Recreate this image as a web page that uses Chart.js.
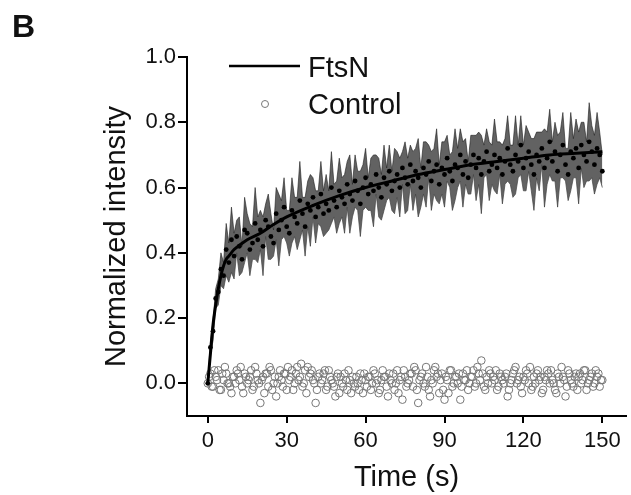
<!DOCTYPE html>
<html>
	<head>
		<title>FtsN FRAP</title>
		<meta charset="utf-8"/>
		<script src="https://cdn.jsdelivr.net/npm/chart.js@4.4.1/dist/chart.umd.min.js"></script>
		<style>
			body { margin: 0; background: #fff; }
			#frap_chart { display: block; }
		</style>
	</head>
	<body>
		<canvas id="frap_chart" width="631" height="495"></canvas>
		<script>
			const fontName = "'Liberation Sans', Arial, sans-serif";

			// one frame per second, t = 0 .. 150 s
			const frameCount = 151;

			const ftsnMean = [
				0.00, 0.11, 0.16, 0.26, 0.28, 0.35, 0.33, 0.41, 0.37, 0.44, 0.39,
				0.45, 0.42, 0.38, 0.47, 0.46, 0.41, 0.43, 0.49, 0.44, 0.47,
				0.42, 0.50, 0.48, 0.45, 0.43, 0.52, 0.47, 0.50, 0.54, 0.48,
				0.46, 0.53, 0.51, 0.49, 0.56, 0.52, 0.48, 0.55, 0.53, 0.57,
				0.51, 0.54, 0.58, 0.52, 0.55, 0.53, 0.60, 0.56, 0.54, 0.59,
				0.57, 0.55, 0.61, 0.58, 0.56, 0.62, 0.59, 0.55, 0.60, 0.63,
				0.58, 0.61, 0.59, 0.64, 0.60, 0.57, 0.63, 0.61, 0.65, 0.59,
				0.62, 0.64, 0.60, 0.66, 0.63, 0.61, 0.67, 0.62, 0.65, 0.63,
				0.60, 0.66, 0.64, 0.68, 0.62, 0.65, 0.67, 0.61, 0.66, 0.64,
				0.69, 0.65, 0.62, 0.67, 0.66, 0.70, 0.64, 0.68, 0.63, 0.67,
				0.70, 0.66, 0.69, 0.64, 0.68, 0.71, 0.65, 0.67, 0.70, 0.66,
				0.69, 0.64, 0.68, 0.72, 0.67, 0.65, 0.70, 0.68, 0.73, 0.66,
				0.69, 0.71, 0.67, 0.64, 0.70, 0.68, 0.72, 0.66, 0.69, 0.74,
				0.68, 0.71, 0.65, 0.70, 0.73, 0.67, 0.64, 0.71, 0.69, 0.72,
				0.66, 0.73, 0.70, 0.68, 0.74, 0.71, 0.67, 0.72, 0.70, 0.65
			];

			const ftsnError = [
				0.00, 0.02, 0.03, 0.03, 0.04, 0.05, 0.04, 0.08, 0.06, 0.10, 0.07,
				0.05, 0.09, 0.04, 0.10, 0.06, 0.08, 0.05, 0.11, 0.07, 0.06,
				0.09, 0.05, 0.10, 0.07, 0.04, 0.08, 0.11, 0.06, 0.09, 0.05,
				0.07, 0.10, 0.06, 0.08, 0.12, 0.05, 0.09, 0.07, 0.11, 0.06,
				0.08, 0.05, 0.10, 0.07, 0.09, 0.06, 0.11, 0.05, 0.08, 0.10,
				0.06, 0.09, 0.07, 0.12, 0.05, 0.08, 0.06, 0.10, 0.07, 0.09,
				0.05, 0.08, 0.11, 0.06, 0.09, 0.07, 0.10, 0.05, 0.08, 0.06,
				0.10, 0.07, 0.09, 0.05, 0.11, 0.08, 0.06, 0.09, 0.07, 0.12,
				0.06, 0.08, 0.10, 0.05, 0.09, 0.07, 0.11, 0.06, 0.08, 0.10,
				0.07, 0.05, 0.09, 0.11, 0.06, 0.08, 0.10, 0.07, 0.05, 0.09,
				0.06, 0.10, 0.08, 0.12, 0.05, 0.07, 0.09, 0.06, 0.11, 0.08,
				0.05, 0.09, 0.07, 0.10, 0.06, 0.08, 0.12, 0.05, 0.09, 0.07,
				0.10, 0.06, 0.08, 0.11, 0.07, 0.09, 0.05, 0.12, 0.08, 0.10,
				0.06, 0.09, 0.11, 0.07, 0.10, 0.05, 0.08, 0.12, 0.06, 0.09,
				0.11, 0.07, 0.10, 0.06, 0.12, 0.08, 0.09, 0.11, 0.07, 0.05
			];

			// control frames on whole seconds
			const controlValues = [
				0.00, 0.03, -0.01, 0.02, 0.04, -0.02, 0.01, 0.03, 0.00, -0.03, 0.02,
				0.04, 0.01, -0.01, 0.03, 0.00, 0.02, -0.02, 0.05, 0.01, -0.06,
				0.02, 0.03, -0.01, 0.04, 0.00, -0.04, 0.02, 0.01, 0.03, -0.02,
				0.01, 0.04, 0.00, 0.05, 0.02, -0.01, 0.04, 0.05, 0.03, 0.01,
				-0.06, 0.02, 0.00, 0.03, -0.02, 0.04, 0.01, -0.01, 0.02, -0.03,
				0.00, 0.03, -0.02, 0.01, 0.02, -0.01, 0.00, 0.03, -0.03, 0.01,
				0.02, -0.02, 0.04, 0.00, -0.03, 0.01, 0.02, -0.01, 0.03, 0.00,
				-0.02, 0.04, 0.01, -0.05, 0.02, 0.00, 0.03, -0.01, 0.04, -0.06,
				0.02, 0.00, 0.05, -0.02, 0.01, 0.04, 0.02, -0.03, 0.03, -0.05,
				0.01, 0.04, -0.01, 0.02, 0.00, -0.05, 0.03, 0.01, -0.02, 0.02,
				0.04, 0.00, 0.03, 0.07, -0.01, 0.02, 0.04, 0.00, 0.01, -0.02,
				0.03, 0.01, 0.02, -0.04, 0.00, 0.03, 0.05, 0.01, -0.01, 0.02,
				0.04, 0.00, -0.02, 0.02, 0.03, 0.01, -0.03, 0.02, 0.04, 0.00,
				0.01, -0.02, 0.03, 0.00, 0.02, -0.04, 0.04, 0.01, -0.01, 0.03,
				0.02, 0.00, 0.04, -0.02, 0.01, 0.03, 0.00, 0.02, -0.01, 0.01
			];

			// control frames on half seconds, t = 0.5 .. 149.5 s
			const controlValuesHalf = [
				0.02, -0.01, 0.04, 0.01, -0.02, 0.03, 0.05, 0.00, -0.01, 0.02,
				0.00, 0.03, 0.05, -0.03, 0.02, 0.01, 0.04, -0.01, 0.03, 0.00,
				0.01, -0.03, 0.03, 0.05, -0.02, 0.02, 0.00, 0.04, -0.01, 0.03,
				0.05, 0.02, -0.02, 0.03, 0.01, 0.06, 0.00, -0.03, 0.02, 0.04,
				0.00, -0.02, 0.03, 0.01, 0.04, -0.01, 0.02, 0.00, -0.04, 0.03,
				0.02, -0.01, 0.01, 0.04, -0.03, 0.00, 0.02, -0.02, 0.01, 0.03,
				-0.01, 0.02, 0.00, 0.03, 0.01, -0.02, 0.04, 0.02, -0.04, 0.01,
				0.03, 0.00, -0.03, 0.02, 0.04, -0.01, 0.01, 0.03, 0.05, -0.02,
				0.01, 0.03, -0.01, 0.02, -0.04, 0.00, 0.05, 0.03, 0.01, -0.02,
				0.02, -0.03, 0.04, 0.00, 0.02, 0.03, -0.01, 0.01, 0.04, 0.00,
				0.02, -0.01, 0.05, 0.01, 0.03, -0.02, 0.00, 0.03, 0.02, 0.04,
				-0.01, 0.02, 0.00, 0.03, -0.02, 0.01, 0.04, 0.00, 0.02, -0.03,
				0.01, 0.03, 0.05, -0.01, 0.00, 0.04, 0.02, -0.02, 0.01, 0.03,
				0.04, 0.00, -0.03, 0.02, 0.05, 0.01, -0.01, 0.03, 0.00, 0.02,
				-0.02, 0.03, 0.01, 0.04, 0.00, 0.02, -0.01, 0.04, 0.03, 0.01
			];

			// fitted recovery curve
			const fitTimes  = [0, 1, 2, 3, 4, 5, 6, 7, 8, 10, 12, 15, 20, 25, 30, 40, 50, 60, 70, 80, 90, 100, 110, 120, 130, 140, 150];
			const fitValues = [0, 0.09, 0.18, 0.24, 0.29, 0.33, 0.36, 0.38, 0.39, 0.41, 0.423, 0.44, 0.46, 0.487, 0.51, 0.545, 0.575, 0.60, 0.62, 0.64, 0.655, 0.67, 0.68, 0.69, 0.70, 0.705, 0.71];

			const xTicks = [0, 30, 60, 90, 120, 150];
			const yTicks = [0, 0.2, 0.4, 0.6, 0.8, 1.0];
			const legendLabels = ['FtsN', 'Control'];

			let chart;

			Init();

			function Init()
			{
				const times = Array.from({ length: frameCount }, (_, i) => i);

				const meanPoints = times.map((t, i) => ({ x: t, y: ftsnMean[i] }));
				const upperPoints = times.map((t, i) => ({ x: t, y: ftsnMean[i] + ftsnError[i] }));
				const lowerPoints = times.map((t, i) => ({ x: t, y: ftsnMean[i] - ftsnError[i] }));
				const controlPoints = times.map((t, i) => ({ x: t, y: controlValues[i] }))
					.concat(controlValuesHalf.map((v, i) => ({ x: i + 0.5, y: v })));
				const fitPoints = fitTimes.map((t, i) => ({ x: t, y: fitValues[i] }));

				const tickFont = { family: fontName, size: 22 };
				const titleFont = { family: fontName, size: 29 };

				const legendPlugin =
				{
					id: 'figureLegend',
					afterDraw(c)
					{
						const ctx = c.ctx;
						ctx.save();

						ctx.fillStyle = '#111';
						ctx.font = 'bold 32px ' + fontName;
						ctx.textBaseline = 'alphabetic';
						ctx.fillText('B', 12, 37);

						ctx.strokeStyle = '#000';
						ctx.lineWidth = 2.5;
						ctx.beginPath();
						ctx.moveTo(229, 66);
						ctx.lineTo(300, 66);
						ctx.stroke();

						ctx.strokeStyle = '#777';
						ctx.lineWidth = 1;
						ctx.beginPath();
						ctx.arc(265, 104, 3.5, 0, Math.PI * 2);
						ctx.stroke();

						ctx.font = '29px ' + fontName;
						ctx.fillText(legendLabels[0], 308, 77);
						ctx.fillText(legendLabels[1], 308, 114);

						ctx.restore();
					}
				};

				const config =
				{
					type: 'scatter',
					data:
					{
						datasets:
						[
							{
								label: 'fit',
								type: 'line',
								data: fitPoints,
								borderColor: '#000',
								borderWidth: 3,
								cubicInterpolationMode: 'monotone',
								pointRadius: 0,
								fill: false,
								order: 0
							},
							{
								label: 'FtsN',
								data: meanPoints,
								pointRadius: 2.4,
								pointBackgroundColor: '#000',
								pointBorderWidth: 0,
								showLine: false,
								order: 1
							},
							{
								label: 'upper',
								type: 'line',
								data: upperPoints,
								borderColor: 'rgba(30,30,30,0.6)',
								borderWidth: 1,
								backgroundColor: 'rgba(70,70,70,0.85)',
								pointRadius: 0,
								tension: 0,
								fill: '+1',
								order: 2
							},
							{
								label: 'lower',
								type: 'line',
								data: lowerPoints,
								borderColor: 'rgba(30,30,30,0.6)',
								borderWidth: 1,
								pointRadius: 0,
								tension: 0,
								fill: false,
								order: 3
							},
							{
								label: 'Control',
								data: controlPoints,
								pointRadius: 3.8,
								pointBorderColor: '#777',
								pointBackgroundColor: 'rgba(255,255,255,0)',
								pointBorderWidth: 1,
								showLine: false,
								order: 4
							}
						]
					},
					options:
					{
						responsive: false,
						animation: false,
						devicePixelRatio: 1,
						layout: { padding: { top: 57, left: 0, right: 0, bottom: 0 } },
						plugins:
						{
							legend: { display: false },
							tooltip: { enabled: false }
						},
						scales:
						{
							x:
							{
								type: 'linear',
								min: -7.9,
								max: 159,
								afterBuildTicks: s => { s.ticks = xTicks.map(v => ({ value: v })); },
								afterFit: s => { s.height = 79; },
								grid: { drawOnChartArea: false, drawTicks: true, tickLength: 7, lineWidth: 2, color: '#000' },
								border: { color: '#000', width: 2 },
								ticks: { font: tickFont, color: '#111', padding: 5, maxRotation: 0, autoSkip: false },
								title: { display: true, text: 'Time (s)', font: titleFont, color: '#111', padding: { top: 0, bottom: 0 } }
							},
							y:
							{
								type: 'linear',
								min: -0.1,
								max: 1.0,
								afterBuildTicks: s => { s.ticks = yTicks.map(v => ({ value: v })); },
								afterFit: s => { s.width = 187; },
								grid: { drawOnChartArea: false, drawTicks: true, tickLength: 9, lineWidth: 2, color: '#000' },
								border: { color: '#000', width: 2 },
								ticks: { font: tickFont, color: '#111', padding: 2, autoSkip: false, callback: v => v.toFixed(1) },
								title: { display: true, text: 'Normalized intensity', font: titleFont, color: '#111', padding: { top: 100, bottom: 0 } }
							}
						}
					},
					plugins: [legendPlugin]
				};

				chart = new Chart(document.getElementById('frap_chart'), config);
			}
		</script>
	</body>
</html>
